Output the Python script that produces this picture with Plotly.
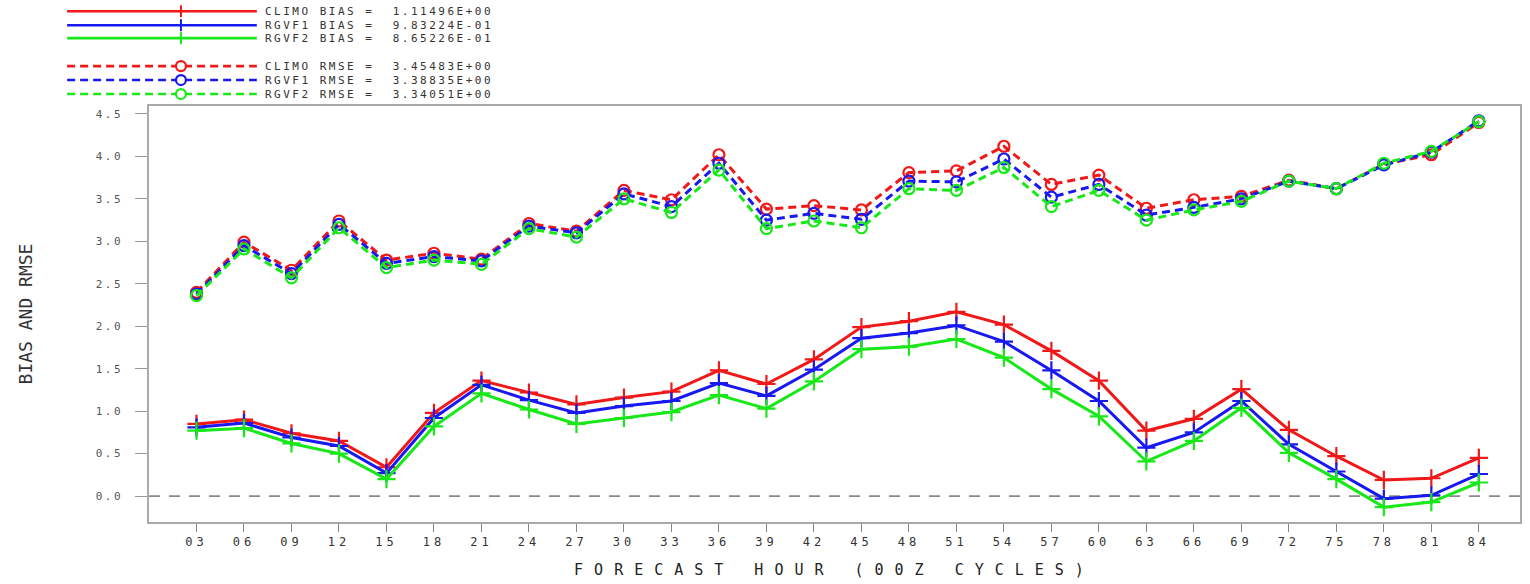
import plotly.graph_objects as go

# Forecast hours (00Z cycles) and their axis labels
hours = [3, 6, 9, 12, 15, 18, 21, 24, 27, 30, 33, 36, 39, 42,
         45, 48, 51, 54, 57, 60, 63, 66, 69, 72, 75, 78, 81, 84]
hour_labels = ["03", "06", "09", "12", "15", "18", "21", "24", "27", "30",
               "33", "36", "39", "42", "45", "48", "51", "54", "57", "60",
               "63", "66", "69", "72", "75", "78", "81", "84"]

# Bias per forecast hour
climo_bias = [0.85, 0.90, 0.74, 0.65, 0.34, 0.98, 1.36, 1.22, 1.08, 1.16,
              1.23, 1.48, 1.32, 1.61, 1.99, 2.06, 2.17, 2.02, 1.71, 1.36,
              0.77, 0.91, 1.26, 0.78, 0.47, 0.19, 0.21, 0.45]
rgvf1_bias = [0.81, 0.86, 0.69, 0.59, 0.27, 0.92, 1.31, 1.13, 0.98, 1.06,
              1.12, 1.33, 1.18, 1.49, 1.86, 1.92, 2.01, 1.82, 1.48, 1.12,
              0.57, 0.75, 1.12, 0.61, 0.29, -0.03, 0.01, 0.26]
rgvf2_bias = [0.77, 0.80, 0.62, 0.50, 0.20, 0.82, 1.21, 1.02, 0.85, 0.92,
              0.99, 1.19, 1.03, 1.35, 1.73, 1.76, 1.85, 1.63, 1.26, 0.94,
              0.41, 0.65, 1.04, 0.51, 0.20, -0.13, -0.07, 0.16]

# RMSE per forecast hour
climo_rmse = [2.40, 2.99, 2.66, 3.24, 2.78, 2.86, 2.79, 3.21, 3.12, 3.60,
              3.49, 4.02, 3.38, 3.42, 3.37, 3.81, 3.83, 4.12, 3.67, 3.78,
              3.39, 3.49, 3.53, 3.72, 3.62, 3.91, 4.02, 4.40]
rgvf1_rmse = [2.38, 2.95, 2.62, 3.20, 2.74, 2.82, 2.77, 3.18, 3.10, 3.56,
              3.41, 3.92, 3.25, 3.33, 3.26, 3.71, 3.70, 3.97, 3.52, 3.67,
              3.31, 3.40, 3.50, 3.71, 3.62, 3.90, 4.05, 4.42]
rgvf2_rmse = [2.36, 2.91, 2.57, 3.16, 2.69, 2.78, 2.73, 3.15, 3.05, 3.50,
              3.34, 3.84, 3.15, 3.24, 3.16, 3.62, 3.60, 3.87, 3.41, 3.60,
              3.25, 3.37, 3.47, 3.71, 3.62, 3.92, 4.06, 4.41]

# Summary statistics shown in the key
model_names = ["CLIMO", "RGVF1", "RGVF2"]
bias_means = ["1.11496E+00", "9.83224E-01", "8.65226E-01"]
rmse_means = ["3.45483E+00", "3.38835E+00", "3.34051E+00"]
y_ticks = [0.0, 0.5, 1.0, 1.5, 2.0, 2.5, 3.0, 3.5, 4.0, 4.5]

colors = ["#f01818", "#1818f0", "#18e818"]
bias_series = [climo_bias, rgvf1_bias, rgvf2_bias]
rmse_series = [climo_rmse, rgvf1_rmse, rgvf2_rmse]

W, H = 1530, 584
ML, MR, MT, MB = 149, 8, 106, 61
PW, PH = W - ML - MR, H - MT - MB
MONO = "DejaVu Sans Mono"


def px_x(px):
    return (px - ML) / PW


def px_y(py):
    return (H - MB - py) / PH


fig = go.Figure()

for name, vals, col in zip(model_names, rmse_series, colors):
    fig.add_trace(go.Scatter(
        x=hours, y=vals, name=f"{name} RMSE", mode="lines+markers",
        line=dict(color=col, width=3, dash="8px,5px"),
        marker=dict(symbol="circle-open", size=11, color=col,
                    line=dict(color=col, width=2.2)),
        showlegend=False,
    ))

for name, vals, col in zip(model_names, bias_series, colors):
    fig.add_trace(go.Scatter(
        x=hours, y=vals, name=f"{name} BIAS", mode="lines+markers",
        line=dict(color=col, width=3),
        marker=dict(symbol="cross-thin", size=13, color=col,
                    line=dict(color=col, width=2.2)),
        showlegend=False,
    ))

shapes = [
    # zero reference line
    dict(type="line", xref="paper", x0=0, x1=1, yref="y", y0=0, y1=0,
         line=dict(color="#8a8a8a", width=1.6, dash="11px,9px"), layer="below"),
]
annotations = []

# key: sample line, marker and statistic text for each series
key_rows_bias = [11, 25, 38]
key_rows_rmse = [66, 80, 94]
line_x0, line_x1, mark_x, text_x = 67, 257, 181, 263

for i, (name, col) in enumerate(zip(model_names, colors)):
    yb = px_y(key_rows_bias[i])
    shapes.append(dict(type="line", xref="paper", yref="paper",
                       x0=px_x(line_x0), x1=px_x(line_x1), y0=yb, y1=yb,
                       line=dict(color=col, width=2.6)))
    shapes.append(dict(type="line", xref="paper", yref="paper",
                       x0=px_x(mark_x), x1=px_x(mark_x),
                       y0=px_y(key_rows_bias[i] - 6), y1=px_y(key_rows_bias[i] + 6),
                       line=dict(color=col, width=2)))
    annotations.append(dict(
        xref="paper", yref="paper", x=px_x(text_x), y=yb,
        xanchor="left", yanchor="middle", align="left", showarrow=False,
        text=f"{name} BIAS =\u00a0\u00a0{bias_means[i]}",
        font=dict(family=MONO, size=11, color="#333333"),
    ))

    yr = px_y(key_rows_rmse[i])
    shapes.append(dict(type="line", xref="paper", yref="paper",
                       x0=px_x(line_x0), x1=px_x(line_x1), y0=yr, y1=yr,
                       line=dict(color=col, width=2.6, dash="8px,5px")))
    shapes.append(dict(type="circle", xref="paper", yref="paper",
                       x0=px_x(mark_x - 5), x1=px_x(mark_x + 5),
                       y0=px_y(key_rows_rmse[i] + 5), y1=px_y(key_rows_rmse[i] - 5),
                       fillcolor="white", line=dict(color=col, width=2.2)))
    annotations.append(dict(
        xref="paper", yref="paper", x=px_x(text_x), y=yr,
        xanchor="left", yanchor="middle", align="left", showarrow=False,
        text=f"{name} RMSE =\u00a0\u00a0{rmse_means[i]}",
        font=dict(family=MONO, size=11, color="#333333"),
    ))

fig.update_layout(
    width=W, height=H,
    margin=dict(l=ML, r=MR, t=MT, b=MB, pad=0),
    paper_bgcolor="white", plot_bgcolor="white",
    showlegend=False,
    shapes=shapes,
    annotations=annotations,
)

fig.update_xaxes(
    range=[0, 86.6],
    tickmode="array", tickvals=hours, ticktext=hour_labels,
    ticks="outside", ticklen=8, tickwidth=1, tickcolor="#888888",
    showgrid=False, zeroline=False,
    showline=True, linecolor="#aaaaaa", linewidth=1.5, mirror=True,
    tickfont=dict(family=MONO, size=12, color="#333333"),
    title=dict(text="FORECAST HOUR (00Z CYCLES)", standoff=16,
               font=dict(family=MONO, size=15, color="#222222")),
)

fig.update_yaxes(
    range=[-0.305, 4.594],
    tickmode="array", tickvals=y_ticks, tickformat=".1f",
    ticks="outside", ticklen=12, tickwidth=1, tickcolor="#999999",
    ticklabelstandoff=10,
    showgrid=False, zeroline=False,
    showline=True, linecolor="#aaaaaa", linewidth=1.5, mirror=True,
    tickfont=dict(family=MONO, size=11, color="#555555"),
    title=dict(text="BIAS AND RMSE", standoff=66,
               font=dict(family=MONO, size=18, color="#333333")),
)

# widen the character pitch of the stroked-style labels
letter_spacing = """
var css = '.xtitle{letter-spacing:11px}'
        + '.xtick text{letter-spacing:4px}'
        + '.ytick text{letter-spacing:2.5px}'
        + '.annotation-text{letter-spacing:2.5px}';
var st = document.createElement('style');
st.textContent = css;
document.head.appendChild(st);
"""

fig.write_html("out.html", post_script=letter_spacing)
